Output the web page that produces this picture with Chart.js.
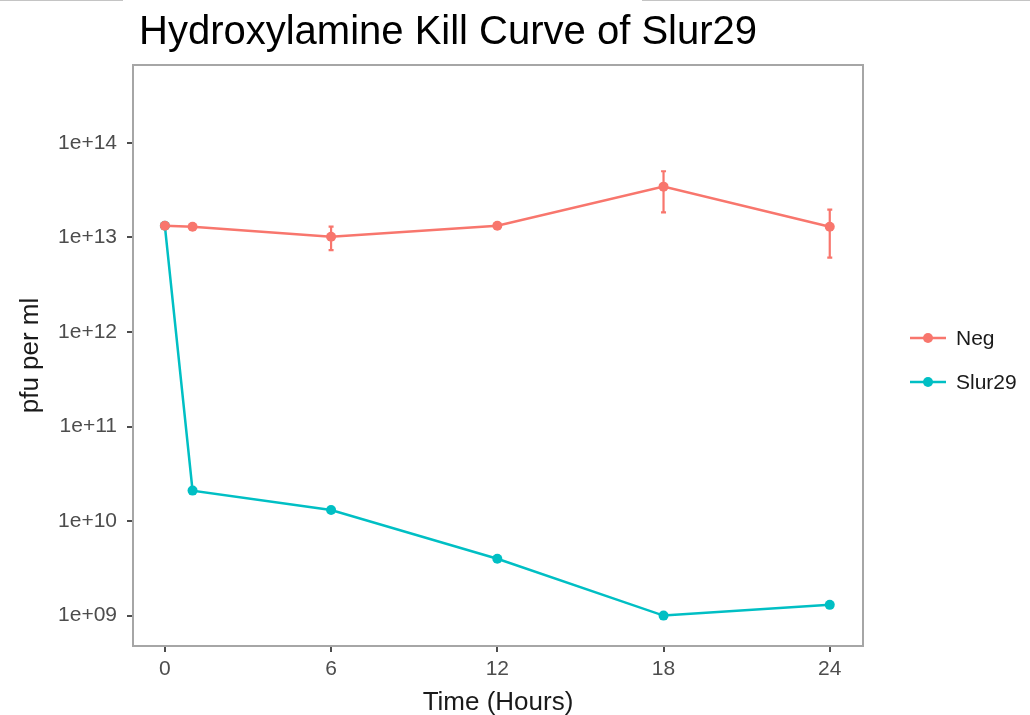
<!DOCTYPE html>
<html>
<head>
<meta charset="utf-8">
<script src="https://cdn.jsdelivr.net/npm/chart.js@4"></script>
<style>
  html, body { margin: 0; padding: 0; background: #fff; }
  #wrap { position: relative; width: 1030px; height: 715px; }
  canvas { display: block; }
  .rule { position: absolute; top: 0; height: 0; border-top: 1.5px solid #c4c4c4; }
</style>
</head>
<body>
<div id="wrap">
  <div class="rule" style="left:0;width:123px"></div>
  <div class="rule" style="left:642px;width:388px"></div>
  <canvas id="c" width="1030" height="715"></canvas>
</div>
<script>
// Sampling times (hours) and phage titres (pfu per ml)
const hours = [0, 1, 6, 12, 18, 24];
const negTitre = [1.33e13, 1.30e13, 1.02e13, 1.33e13, 3.45e13, 1.30e13];
const negLow   = [null, null, 0.735e13, null, 1.84e13, 0.613e13];
const negHigh  = [null, null, 1.30e13, null, 5.02e13, 1.97e13];
const slurTitre = [1.33e13, 2.1e10, 1.31e10, 4.0e9, 1.0e9, 1.30e9];
const xTicks = [0, 6, 12, 18, 24];
const yTicks = [1e9, 1e10, 1e11, 1e12, 1e13, 1e14];
const seriesNames = ['Neg', 'Slur29'];
const seriesColors = ['#F8766D', '#00BFC4'];

const FONT = "'Liberation Sans', Arial, Helvetica, sans-serif";

function toPoints(ys) { return hours.map((h, i) => ({ x: h, y: ys[i] })); }
function sciLabel(v) {
  const e = Math.round(Math.log10(v));
  return '1e+' + (e < 10 ? '0' + e : e);
}

// Frame, error bars, title, axis titles and legend
const decor = {
  id: 'decor',
  beforeDatasetsDraw(chart) {
    const { ctx, scales } = chart;
    const xs = scales.x, ys = scales.y;
    ctx.save();
    ctx.strokeStyle = seriesColors[0];
    ctx.lineWidth = 2.2;
    hours.forEach((h, i) => {
      if (negLow[i] == null) return;
      const px = xs.getPixelForValue(h);
      const y1 = ys.getPixelForValue(negHigh[i]);
      const y2 = ys.getPixelForValue(negLow[i]);
      ctx.beginPath();
      ctx.moveTo(px, y1); ctx.lineTo(px, y2);
      ctx.moveTo(px - 2.5, y1); ctx.lineTo(px + 2.5, y1);
      ctx.moveTo(px - 2.5, y2); ctx.lineTo(px + 2.5, y2);
      ctx.stroke();
    });
    ctx.restore();
  },
  afterDraw(chart) {
    const { ctx, chartArea: a } = chart;
    ctx.save();
    // panel border
    ctx.strokeStyle = '#a6a6a6';
    ctx.lineWidth = 2;
    ctx.strokeRect(a.left, a.top, a.right - a.left, a.bottom - a.top);

    // title
    ctx.fillStyle = '#000';
    ctx.font = '40px ' + FONT;
    ctx.textAlign = 'left';
    ctx.textBaseline = 'alphabetic';
    ctx.fillText('Hydroxylamine Kill Curve of Slur29', 139, 44);

    // axis titles
    ctx.fillStyle = '#1a1a1a';
    ctx.font = '26px ' + FONT;
    ctx.textAlign = 'center';
    ctx.textBaseline = 'alphabetic';
    ctx.fillText('Time (Hours)', (a.left + a.right) / 2, 710);
    ctx.save();
    ctx.translate(38, (a.top + a.bottom) / 2);
    ctx.rotate(-Math.PI / 2);
    ctx.fillText('pfu per ml', 0, 0);
    ctx.restore();

    // legend
    const rows = [338, 382];
    seriesNames.forEach((name, i) => {
      const y = rows[i];
      ctx.strokeStyle = seriesColors[i];
      ctx.fillStyle = seriesColors[i];
      ctx.lineWidth = 2.5;
      ctx.beginPath();
      ctx.moveTo(910, y); ctx.lineTo(946, y);
      ctx.stroke();
      ctx.beginPath();
      ctx.arc(928, y, 5, 0, Math.PI * 2);
      ctx.fill();
      ctx.fillStyle = '#1a1a1a';
      ctx.font = '21px ' + FONT;
      ctx.textAlign = 'left';
      ctx.textBaseline = 'middle';
      ctx.fillText(name, 956, y + 1);
    });
    ctx.restore();
  }
};

new Chart(document.getElementById('c'), {
  type: 'line',
  data: {
    datasets: [
      {
        label: seriesNames[0],
        data: toPoints(negTitre),
        borderColor: seriesColors[0],
        backgroundColor: seriesColors[0],
        borderWidth: 2.5,
        pointRadius: 5,
        pointBorderWidth: 0,
        tension: 0
      },
      {
        label: seriesNames[1],
        data: toPoints(slurTitre),
        borderColor: seriesColors[1],
        backgroundColor: seriesColors[1],
        borderWidth: 2.5,
        pointRadius: 5,
        pointBorderWidth: 0,
        tension: 0
      }
    ]
  },
  options: {
    responsive: false,
    animation: false,
    devicePixelRatio: 1,
    layout: { padding: { left: 0, top: 65, right: 167, bottom: 0 } },
    plugins: {
      legend: { display: false },
      title: { display: false },
      tooltip: { enabled: false }
    },
    scales: {
      x: {
        type: 'linear',
        min: -1.15,
        max: 25.2,
        afterBuildTicks(s) { s.ticks = xTicks.map(v => ({ value: v })); },
        afterFit(s) { s.height = 69; },
        border: { display: false },
        grid: { drawOnChartArea: false, drawTicks: true, tickLength: 6, color: '#4d4d4d', lineWidth: 2 },
        ticks: {
          color: '#4d4d4d',
          font: { family: FONT, size: 21 },
          padding: 5,
          maxRotation: 0,
          callback: v => String(v)
        }
      },
      y: {
        type: 'logarithmic',
        min: 4.77e8,
        max: 6.68e14,
        afterBuildTicks(s) { s.ticks = yTicks.map(v => ({ value: v })); },
        afterFit(s) { s.width = 133; },
        border: { display: false },
        grid: { drawOnChartArea: false, drawTicks: true, tickLength: 6, color: '#4d4d4d', lineWidth: 2 },
        ticks: {
          color: '#4d4d4d',
          font: { family: FONT, size: 21 },
          padding: 10,
          callback: v => sciLabel(v)
        }
      }
    }
  },
  plugins: [decor]
});
</script>
</body>
</html>
